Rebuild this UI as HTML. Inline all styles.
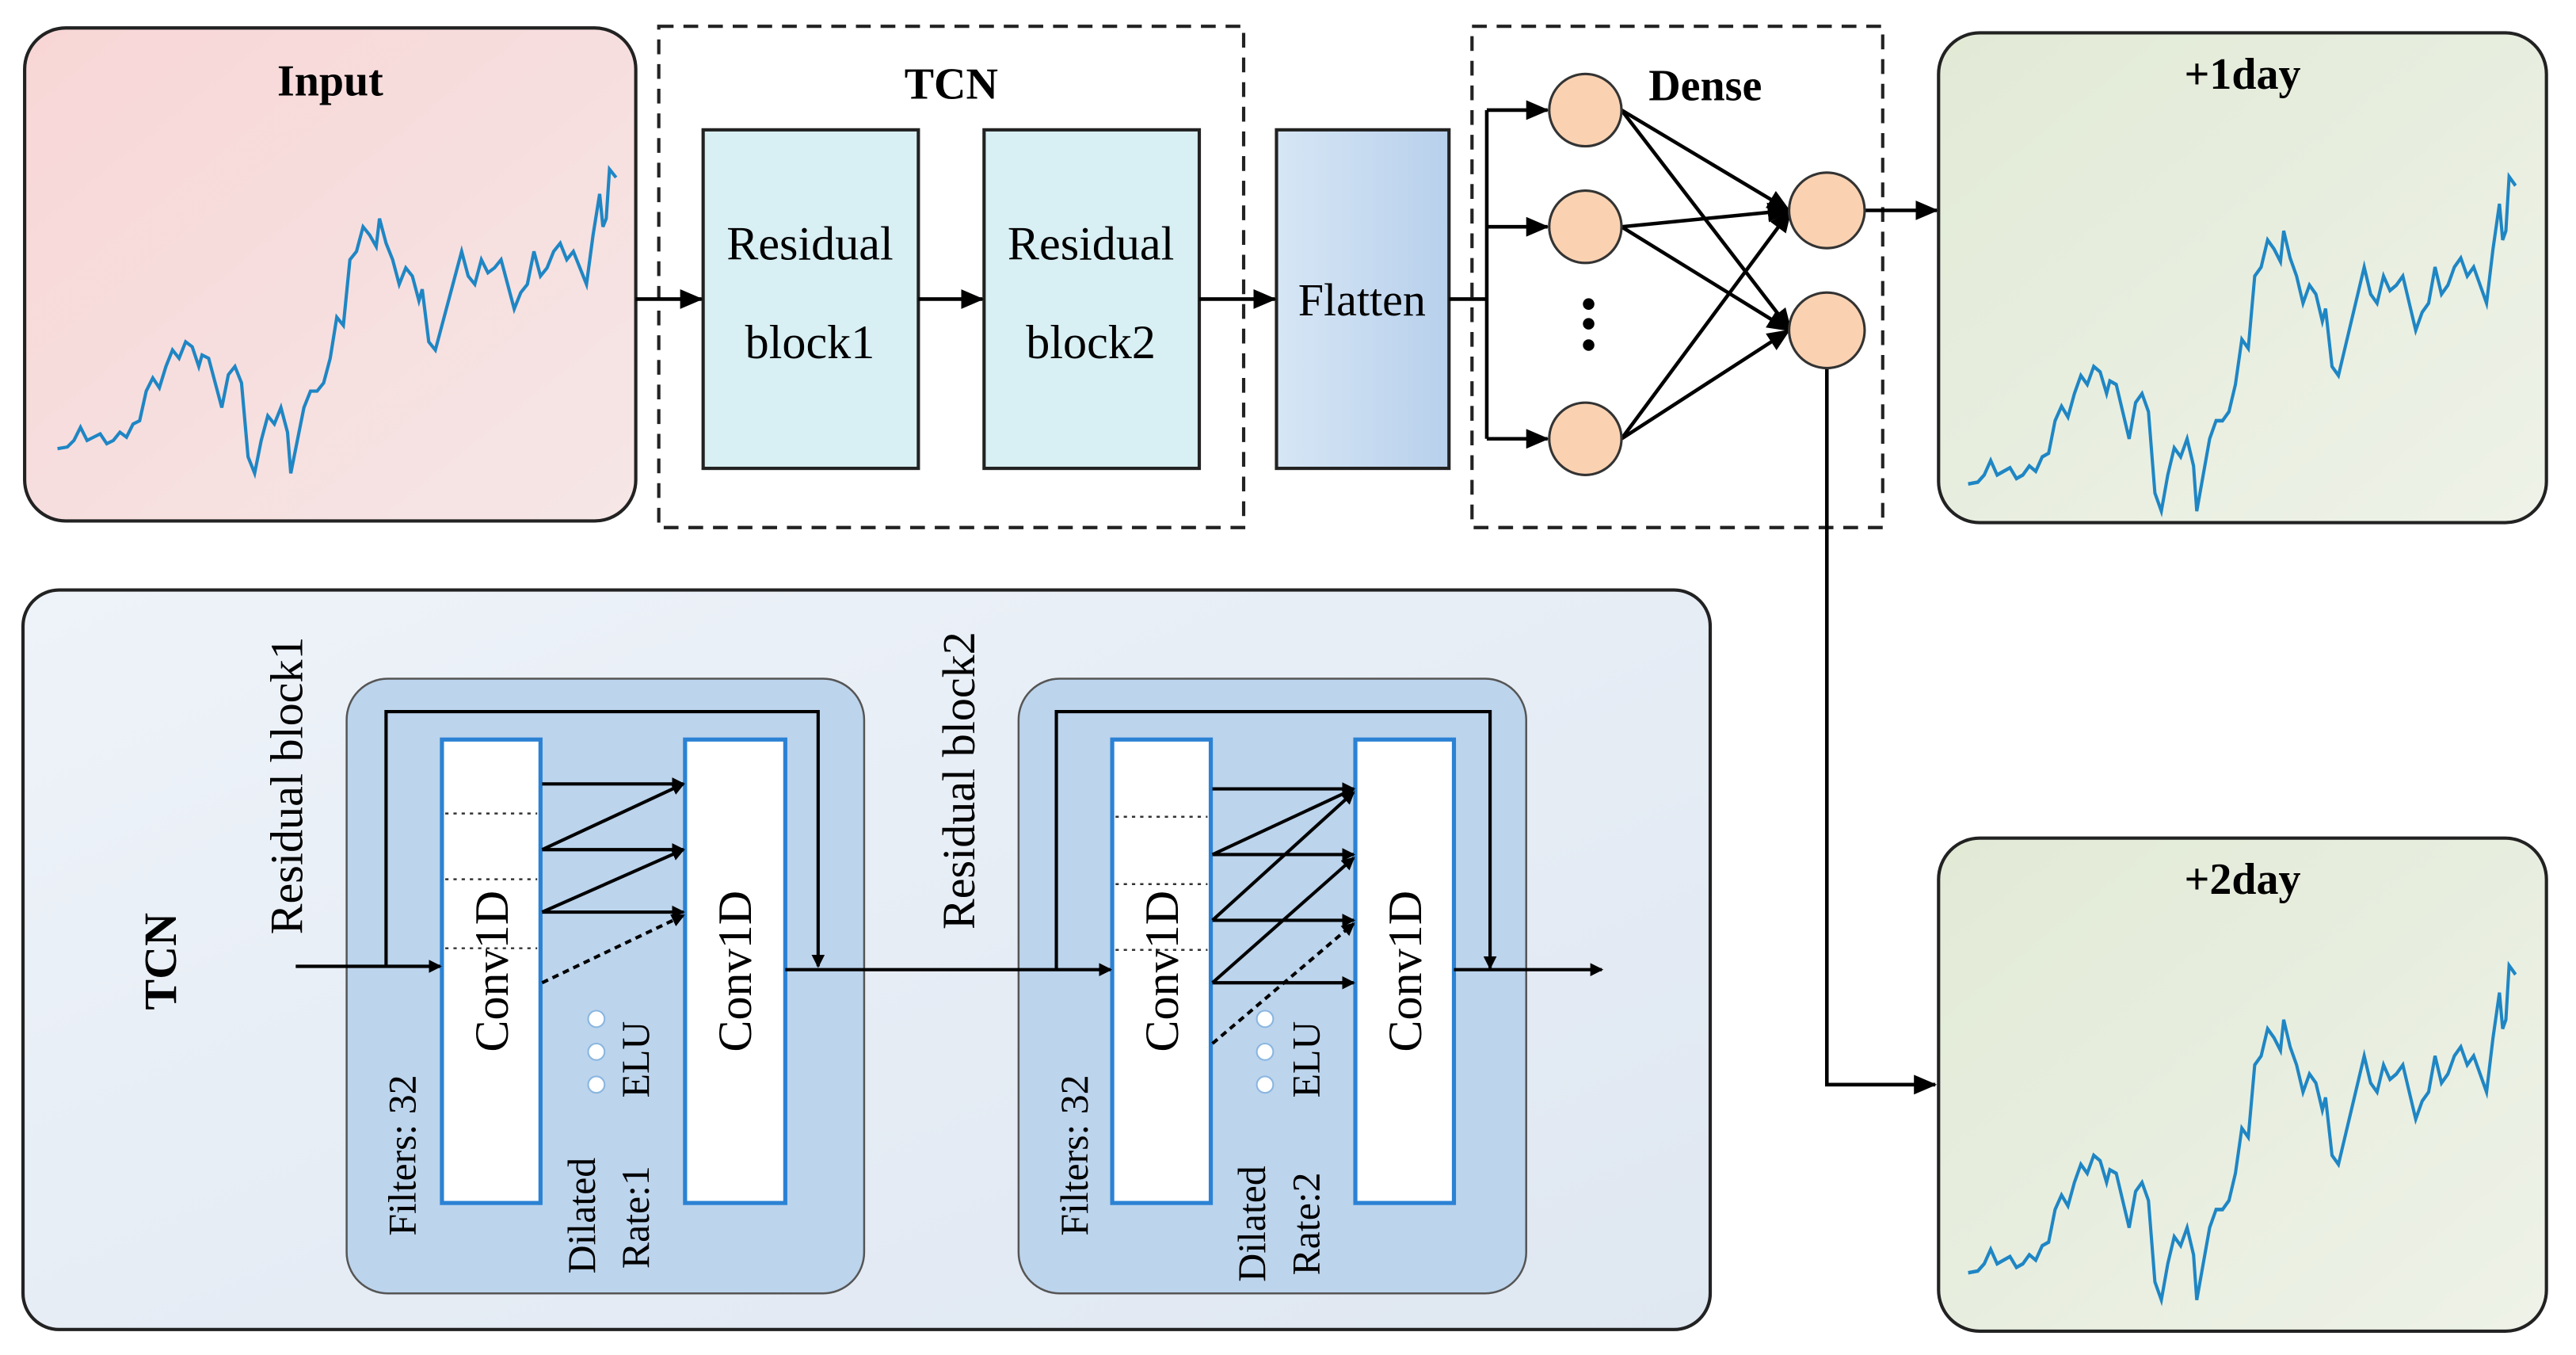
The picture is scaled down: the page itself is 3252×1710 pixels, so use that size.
<!DOCTYPE html>
<html><head><meta charset="utf-8"><style>html,body{margin:0;padding:0;background:#fff}svg{display:block}</style></head><body>
<svg width="3252" height="1710" viewBox="0 0 1568 824.5" xmlns="http://www.w3.org/2000/svg" font-family="Liberation Serif, serif">
<defs>
<linearGradient id="gi" x1="0" y1="0" x2="1" y2="1"><stop offset="0" stop-color="#f8d6d6"/><stop offset="1" stop-color="#f6e6e6"/></linearGradient>
<linearGradient id="gg" x1="0" y1="0" x2="1" y2="1"><stop offset="0" stop-color="#e2ead6"/><stop offset="1" stop-color="#eef2e8"/></linearGradient>
<linearGradient id="gb" x1="0" y1="0" x2="1" y2="1"><stop offset="0" stop-color="#eef3f9"/><stop offset="1" stop-color="#dfe7f1"/></linearGradient>
<linearGradient id="gf" x1="0" y1="0" x2="1" y2="0"><stop offset="0" stop-color="#d6e6f5"/><stop offset="1" stop-color="#b8d0ec"/></linearGradient>
<marker id="a" markerWidth="8" markerHeight="8" refX="7" refY="4" orient="auto" markerUnits="userSpaceOnUse" viewBox="0 0 8 8"><path d="M0,0 L8,4 L0,8 z" fill="#000"/></marker>
<marker id="b" markerWidth="14" markerHeight="12" refX="13" refY="6" orient="auto" markerUnits="userSpaceOnUse" viewBox="0 0 14 12"><path d="M0,0 L14,6 L0,12 z" fill="#000"/></marker>
<polyline id="ln" fill="none" stroke="#1f86c4" stroke-width="2" points="0,95 6,94 10,90 14,82 18,90 22,88 26,86 30,92 34,90 38,85 42,88 46,80 50,78 54,60 58,52 62,58 66,45 70,35 74,40 78,30 82,33 86,45 88,38 92,40 96,55 100,70 104,50 108,45 112,55 116,100 120,110 124,90 128,75 132,80 136,70 140,85 142,110 146,90 150,70 154,60 158,60 162,55 166,40 170,15 174,20 178,-20 182,-25 186,-40 190,-35 194,-28 196,-45 200,-30 204,-20 208,-5 212,-15 216,-10 220,5 222,-2 226,30 230,35 234,20 238,5 242,-10 246,-25 250,-10 254,-5 258,-20 262,-12 266,-15 270,-20 274,-5 278,10 282,0 286,-5 290,-25 294,-10 298,-15 302,-25 306,-30 310,-20 314,-25 318,-15 322,-5 326,-35 330,-60 332,-40 334,-45 336,-75 340,-70"/>
</defs>

<!-- Input -->
<rect x="15" y="17" width="372" height="300" rx="25" fill="url(#gi)" stroke="#222" stroke-width="2"/>
<text x="201" y="58" font-size="27" font-weight="bold" text-anchor="middle">Input</text>
<use href="#ln" transform="translate(35,178)"/>

<!-- TCN dashed -->
<rect x="401" y="16" width="356" height="305" fill="none" stroke="#222" stroke-width="2" stroke-dasharray="9,6"/>
<text x="579" y="60" font-size="27" font-weight="bold" text-anchor="middle">TCN</text>
<rect x="428" y="79" width="131" height="206" fill="#d8eff3" stroke="#222" stroke-width="2"/>
<text x="493" y="158" font-size="29" text-anchor="middle">Residual</text>
<text x="493" y="218" font-size="29" text-anchor="middle">block1</text>
<rect x="599" y="79" width="131" height="206" fill="#d8eff3" stroke="#222" stroke-width="2"/>
<text x="664" y="158" font-size="29" text-anchor="middle">Residual</text>
<text x="664" y="218" font-size="29" text-anchor="middle">block2</text>
<rect x="777" y="79" width="105" height="206" fill="url(#gf)" stroke="#222" stroke-width="2"/>
<text x="829" y="192" font-size="28" text-anchor="middle">Flatten</text>
<g stroke="#000" stroke-width="2.2">
<line x1="387" y1="182" x2="427" y2="182" marker-end="url(#b)"/>
<line x1="559" y1="182" x2="598" y2="182" marker-end="url(#b)"/>
<line x1="730" y1="182" x2="776" y2="182" marker-end="url(#b)"/>
<line x1="882" y1="182" x2="905" y2="182"/>
<line x1="905" y1="67" x2="905" y2="267"/>
<line x1="905" y1="67" x2="942" y2="67" marker-end="url(#b)"/>
<line x1="905" y1="138" x2="942" y2="138" marker-end="url(#b)"/>
<line x1="905" y1="267" x2="942" y2="267" marker-end="url(#b)"/>
</g>

<!-- Dense -->
<rect x="896" y="16" width="250" height="305" fill="none" stroke="#222" stroke-width="2" stroke-dasharray="9,6"/>
<text x="1038" y="61" font-size="27" font-weight="bold" text-anchor="middle">Dense</text>
<g stroke="#000" stroke-width="2.2">
<line x1="987" y1="67" x2="1089" y2="128" marker-end="url(#b)"/>
<line x1="987" y1="67" x2="1090" y2="201" marker-end="url(#b)"/>
<line x1="987" y1="138" x2="1089" y2="128" marker-end="url(#b)"/>
<line x1="987" y1="138" x2="1089" y2="201" marker-end="url(#b)"/>
<line x1="987" y1="267" x2="1090" y2="128" marker-end="url(#b)"/>
<line x1="987" y1="267" x2="1089" y2="201" marker-end="url(#b)"/>
<line x1="1135" y1="128" x2="1179" y2="128" marker-end="url(#b)"/>
<polyline fill="none" points="1112,224 1112,660 1178,660" marker-end="url(#b)"/>
</g>
<g fill="#fad2b2" stroke="#333" stroke-width="1.5">
<circle cx="965" cy="67" r="22"/><circle cx="965" cy="138" r="22"/><circle cx="965" cy="267" r="22"/>
<circle cx="1112" cy="128" r="23"/><circle cx="1112" cy="201" r="23"/>
</g>
<circle cx="967" cy="185" r="3.5"/><circle cx="967" cy="197" r="3.5"/><circle cx="967" cy="210" r="3.5"/>

<!-- outputs -->
<rect x="1180" y="20" width="370" height="298" rx="25" fill="url(#gg)" stroke="#222" stroke-width="2"/>
<text x="1365" y="54" font-size="27" font-weight="bold" text-anchor="middle">+1day</text>
<use href="#ln" transform="translate(1198,190) scale(0.98,1.1)"/>
<rect x="1180" y="510" width="370" height="300" rx="25" fill="url(#gg)" stroke="#222" stroke-width="2"/>
<text x="1365" y="544" font-size="27" font-weight="bold" text-anchor="middle">+2day</text>
<use href="#ln" transform="translate(1198,670) scale(0.98,1.1)"/>

<!-- bottom TCN -->
<rect x="14" y="359" width="1027" height="450" rx="22" fill="url(#gb)" stroke="#222" stroke-width="2"/>
<text transform="translate(107,585) rotate(-90)" font-size="28" font-weight="bold" text-anchor="middle">TCN</text>
<rect x="211" y="413" width="315" height="374" rx="25" fill="#bcd4ec" stroke="#555" stroke-width="1.2"/>
<rect x="620" y="413" width="309" height="374" rx="25" fill="#bcd4ec" stroke="#555" stroke-width="1.2"/>
<text transform="translate(184,478) rotate(-90)" font-size="28" text-anchor="middle">Residual block1</text>
<text transform="translate(593,475) rotate(-90)" font-size="28" text-anchor="middle">Residual block2</text>

<g fill="#fff" stroke="#2b82d4" stroke-width="2.5">
<rect x="269" y="450" width="60" height="282"/><rect x="417" y="450" width="61" height="282"/>
<rect x="677" y="450" width="60" height="282"/><rect x="825" y="450" width="60" height="282"/>
</g>
<g stroke="#333" stroke-width="1.2" stroke-dasharray="2,3">
<line x1="271" y1="495" x2="327" y2="495"/><line x1="271" y1="535" x2="327" y2="535"/><line x1="271" y1="577" x2="327" y2="577"/>
<line x1="679" y1="497" x2="735" y2="497"/><line x1="679" y1="538" x2="735" y2="538"/><line x1="679" y1="578" x2="735" y2="578"/>
</g>
<g font-size="29" text-anchor="middle">
<text transform="translate(309,591) rotate(-90)">Conv1D</text>
<text transform="translate(457,591) rotate(-90)">Conv1D</text>
<text transform="translate(717,591) rotate(-90)">Conv1D</text>
<text transform="translate(865,591) rotate(-90)">Conv1D</text>
</g>
<g font-size="24">
<text transform="translate(253,752) rotate(-90)">Filters:  32</text>
<text transform="translate(662,752) rotate(-90)">Filters:  32</text>
<text transform="translate(362,775) rotate(-90)">Dilated</text>
<text transform="translate(395,772) rotate(-90)">Rate:1</text>
<text transform="translate(395,668) rotate(-90)">ELU</text>
<text transform="translate(770,780) rotate(-90)">Dilated</text>
<text transform="translate(803,776) rotate(-90)">Rate:2</text>
<text transform="translate(803,668) rotate(-90)">ELU</text>
</g>
<g fill="#fff" stroke="#8ab6e0" stroke-width="1">
<circle cx="363" cy="620" r="5"/><circle cx="363" cy="640" r="5"/><circle cx="363" cy="660" r="5"/>
<circle cx="770" cy="620" r="5"/><circle cx="770" cy="640" r="5"/><circle cx="770" cy="660" r="5"/>
</g>
<g stroke="#000" stroke-width="2" fill="none">
<line x1="180" y1="588" x2="268" y2="588" marker-end="url(#a)"/>
<polyline points="235,588 235,433 498,433 498,588" marker-end="url(#a)"/>
<line x1="478" y1="590" x2="676" y2="590" marker-end="url(#a)"/>
<polyline points="643,590 643,433 907,433 907,589" marker-end="url(#a)"/>
<line x1="885" y1="590" x2="975" y2="590" marker-end="url(#a)"/>
<line x1="330" y1="477" x2="416" y2="477" marker-end="url(#a)"/>
<line x1="330" y1="517" x2="416" y2="477" marker-end="url(#a)"/>
<line x1="330" y1="517" x2="416" y2="517" marker-end="url(#a)"/>
<line x1="330" y1="555" x2="416" y2="517" marker-end="url(#a)"/>
<line x1="330" y1="555" x2="416" y2="555" marker-end="url(#a)"/>
<line x1="330" y1="598" x2="416" y2="557" stroke-dasharray="4,3" marker-end="url(#a)"/>
<line x1="738" y1="480" x2="824" y2="480" marker-end="url(#a)"/>
<line x1="738" y1="520" x2="824" y2="480" marker-end="url(#a)"/>
<line x1="738" y1="520" x2="824" y2="520" marker-end="url(#a)"/>
<line x1="738" y1="560" x2="824" y2="482" marker-end="url(#a)"/>
<line x1="738" y1="560" x2="824" y2="560" marker-end="url(#a)"/>
<line x1="738" y1="598" x2="824" y2="522" marker-end="url(#a)"/>
<line x1="738" y1="598" x2="824" y2="598" marker-end="url(#a)"/>
<line x1="738" y1="635" x2="824" y2="562" stroke-dasharray="4,3" marker-end="url(#a)"/>
</g>
</svg>
</body></html>
